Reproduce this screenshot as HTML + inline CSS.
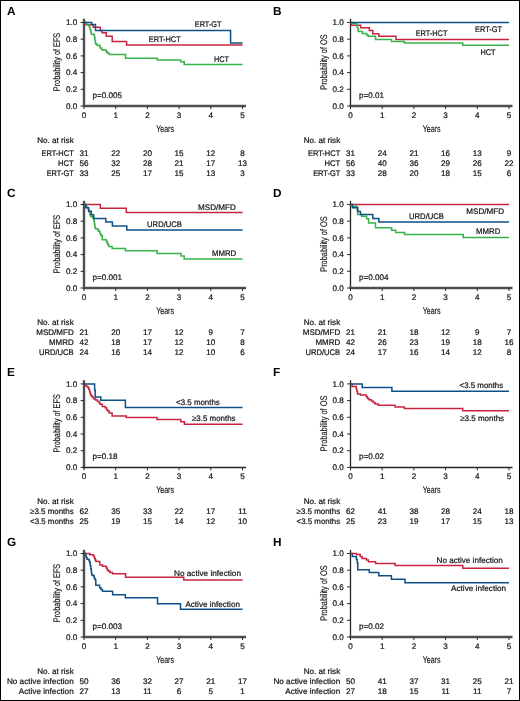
<!DOCTYPE html>
<html><head><meta charset="utf-8"><style>
html,body{margin:0;padding:0;background:#fff;}
body{width:520px;height:701px;overflow:hidden;}
svg{display:block;will-change:transform;}
text{font-family:"Liberation Sans", sans-serif;fill:#151515;text-rendering:geometricPrecision;}
.s{font-size:8.1px;stroke:#151515;stroke-width:0.22px;}
.L{font-size:11.8px;font-weight:bold;fill:#000;}
.T{font-size:9.6px;stroke:#151515;stroke-width:0.15px;}
.axg{fill:none;stroke:#4f4f4f;stroke-width:2.4;}
.axd{fill:none;stroke:#242424;stroke-width:1.3;}
.tk{fill:none;stroke:#2a2a2a;stroke-width:1;}
.c{fill:none;stroke-width:1.5;}
</style></head><body>
<svg width="520" height="701" viewBox="0 0 520 701">
<rect x="0.5" y="0.5" width="519" height="700" fill="#fff" stroke="#000" stroke-width="1"/>
<g><text x="7.00" y="14.80" class="L">A</text>
<text transform="translate(60.30,62.00) rotate(-90)" text-anchor="middle" class="T" textLength="58.4" lengthAdjust="spacingAndGlyphs">Probability of EFS</text>
<path d="M84.00,18.80 V107.00" class="axg"/>
<path d="M83.00,106.00 H246.00" class="axg"/>
<text x="77.30" y="108.75" text-anchor="end" class="s">0.0</text>
<text x="77.30" y="92.05" text-anchor="end" class="s">0.2</text>
<text x="77.30" y="75.35" text-anchor="end" class="s">0.4</text>
<text x="77.30" y="58.65" text-anchor="end" class="s">0.6</text>
<text x="77.30" y="41.95" text-anchor="end" class="s">0.8</text>
<text x="77.30" y="25.25" text-anchor="end" class="s">1.0</text>
<text x="84.00" y="117.90" text-anchor="middle" class="s">0</text>
<text x="115.70" y="117.90" text-anchor="middle" class="s">1</text>
<text x="147.40" y="117.90" text-anchor="middle" class="s">2</text>
<text x="179.10" y="117.90" text-anchor="middle" class="s">3</text>
<text x="210.80" y="117.90" text-anchor="middle" class="s">4</text>
<text x="242.50" y="117.90" text-anchor="middle" class="s">5</text>
<path d="M80.60,106.00 H84.00 M80.60,89.30 H84.00 M80.60,72.60 H84.00 M80.60,55.90 H84.00 M80.60,39.20 H84.00 M80.60,22.50 H84.00 M84.00,106.00 V109.00 M115.70,106.00 V109.00 M147.40,106.00 V109.00 M179.10,106.00 V109.00 M210.80,106.00 V109.00 M242.50,106.00 V109.00" class="tk"/>
<text x="165.10" y="131.50" text-anchor="middle" class="T" textLength="17.9" lengthAdjust="spacingAndGlyphs">Years</text>
<text x="92.50" y="97.80" class="s">p=0.005</text>
<path d="M84.00,22.50 H85.00 V24.80 H93.20 V27.30 H100.20 V30.40 H102.00 V32.70 H106.30 V36.30 H112.20 V41.50 H126.60 V45.10 H242.50" stroke="#c9243f" class="c"/>
<path d="M84.00,22.50 H86.50 V24.40 H88.60 V25.60 H89.30 V27.00 H90.00 V29.50 H90.70 V32.00 H91.30 V34.20 H94.00 V35.50 H94.60 V38.00 H95.00 V41.00 H95.50 V43.70 H96.50 V44.50 H97.40 V45.60 H100.10 V47.90 H101.60 V49.80 H102.80 V50.00 H106.20 V51.80 H107.40 V53.30 H109.30 V54.50 H125.50 V58.30 H157.30 V59.90 H180.80 V61.80 H184.20 V64.40 H242.50" stroke="#37b24a" class="c"/>
<path d="M84.00,22.50 H91.70 V24.60 H95.50 V30.40 H230.60 V43.10 H242.50" stroke="#0e4f86" class="c"/>
<text x="194.75" y="26.90" class="s" textLength="26.75" lengthAdjust="spacingAndGlyphs">ERT-GT</text>
<text x="148.70" y="41.90" class="s" textLength="32.1" lengthAdjust="spacingAndGlyphs">ERT-HCT</text>
<text x="214.00" y="61.50" class="s" textLength="15" lengthAdjust="spacingAndGlyphs">HCT</text>
<text x="73.70" y="143.30" text-anchor="end" class="s">No. at risk</text>
<text x="41.50" y="155.70" class="s" textLength="32.2" lengthAdjust="spacingAndGlyphs">ERT-HCT</text>
<text x="84.00" y="155.70" text-anchor="middle" class="s">31</text>
<text x="115.70" y="155.70" text-anchor="middle" class="s">22</text>
<text x="147.40" y="155.70" text-anchor="middle" class="s">20</text>
<text x="179.10" y="155.70" text-anchor="middle" class="s">15</text>
<text x="210.80" y="155.70" text-anchor="middle" class="s">12</text>
<text x="242.50" y="155.70" text-anchor="middle" class="s">8</text>
<text x="58.00" y="165.70" class="s" textLength="15.7" lengthAdjust="spacingAndGlyphs">HCT</text>
<text x="84.00" y="165.70" text-anchor="middle" class="s">56</text>
<text x="115.70" y="165.70" text-anchor="middle" class="s">32</text>
<text x="147.40" y="165.70" text-anchor="middle" class="s">28</text>
<text x="179.10" y="165.70" text-anchor="middle" class="s">21</text>
<text x="210.80" y="165.70" text-anchor="middle" class="s">17</text>
<text x="242.50" y="165.70" text-anchor="middle" class="s">13</text>
<text x="46.70" y="175.70" class="s" textLength="27.0" lengthAdjust="spacingAndGlyphs">ERT-GT</text>
<text x="84.00" y="175.70" text-anchor="middle" class="s">33</text>
<text x="115.70" y="175.70" text-anchor="middle" class="s">25</text>
<text x="147.40" y="175.70" text-anchor="middle" class="s">17</text>
<text x="179.10" y="175.70" text-anchor="middle" class="s">15</text>
<text x="210.80" y="175.70" text-anchor="middle" class="s">13</text>
<text x="242.50" y="175.70" text-anchor="middle" class="s">3</text></g>
<g><text x="273.10" y="14.80" class="L">B</text>
<text transform="translate(326.80,62.00) rotate(-90)" text-anchor="middle" class="T" textLength="55.6" lengthAdjust="spacingAndGlyphs">Probability of OS</text>
<path d="M350.50,18.80 V106.60" class="axd"/>
<path d="M349.50,106.00 H512.50" class="axg"/>
<text x="343.80" y="108.75" text-anchor="end" class="s">0.0</text>
<text x="343.80" y="92.05" text-anchor="end" class="s">0.2</text>
<text x="343.80" y="75.35" text-anchor="end" class="s">0.4</text>
<text x="343.80" y="58.65" text-anchor="end" class="s">0.6</text>
<text x="343.80" y="41.95" text-anchor="end" class="s">0.8</text>
<text x="343.80" y="25.25" text-anchor="end" class="s">1.0</text>
<text x="350.50" y="117.90" text-anchor="middle" class="s">0</text>
<text x="382.20" y="117.90" text-anchor="middle" class="s">1</text>
<text x="413.90" y="117.90" text-anchor="middle" class="s">2</text>
<text x="445.60" y="117.90" text-anchor="middle" class="s">3</text>
<text x="477.30" y="117.90" text-anchor="middle" class="s">4</text>
<text x="509.00" y="117.90" text-anchor="middle" class="s">5</text>
<path d="M347.10,106.00 H350.50 M347.10,89.30 H350.50 M347.10,72.60 H350.50 M347.10,55.90 H350.50 M347.10,39.20 H350.50 M347.10,22.50 H350.50 M350.50,106.00 V109.00 M382.20,106.00 V109.00 M413.90,106.00 V109.00 M445.60,106.00 V109.00 M477.30,106.00 V109.00 M509.00,106.00 V109.00" class="tk"/>
<text x="431.60" y="131.50" text-anchor="middle" class="T" textLength="17.9" lengthAdjust="spacingAndGlyphs">Years</text>
<text x="359.00" y="97.80" class="s">p=0.01</text>
<path d="M350.50,22.50 H351.30 V25.20 H360.60 V27.70 H369.30 V30.40 H372.80 V33.80 H378.90 V36.20 H395.90 V39.50 H509.00" stroke="#c9243f" class="c"/>
<path d="M350.50,22.50 H352.10 V23.60 H356.60 V25.50 H357.20 V27.50 H357.80 V29.50 H358.40 V31.50 H362.40 V33.50 H366.60 V35.00 H368.10 V36.20 H375.50 V39.60 H391.60 V41.40 H404.40 V43.10 H462.80 V45.20 H509.00" stroke="#37b24a" class="c"/>
<path d="M350.50,22.50 H509.00" stroke="#0e4f86" class="c"/>
<text x="475.10" y="32.20" class="s" textLength="26.9" lengthAdjust="spacingAndGlyphs">ERT-GT</text>
<text x="415.70" y="35.80" class="s" textLength="31.7" lengthAdjust="spacingAndGlyphs">ERT-HCT</text>
<text x="480.40" y="54.70" class="s" textLength="15.1" lengthAdjust="spacingAndGlyphs">HCT</text>
<text x="340.20" y="143.30" text-anchor="end" class="s">No. at risk</text>
<text x="308.00" y="155.70" class="s" textLength="32.2" lengthAdjust="spacingAndGlyphs">ERT-HCT</text>
<text x="350.50" y="155.70" text-anchor="middle" class="s">31</text>
<text x="382.20" y="155.70" text-anchor="middle" class="s">24</text>
<text x="413.90" y="155.70" text-anchor="middle" class="s">21</text>
<text x="445.60" y="155.70" text-anchor="middle" class="s">16</text>
<text x="477.30" y="155.70" text-anchor="middle" class="s">13</text>
<text x="509.00" y="155.70" text-anchor="middle" class="s">9</text>
<text x="324.50" y="165.70" class="s" textLength="15.7" lengthAdjust="spacingAndGlyphs">HCT</text>
<text x="350.50" y="165.70" text-anchor="middle" class="s">56</text>
<text x="382.20" y="165.70" text-anchor="middle" class="s">40</text>
<text x="413.90" y="165.70" text-anchor="middle" class="s">36</text>
<text x="445.60" y="165.70" text-anchor="middle" class="s">29</text>
<text x="477.30" y="165.70" text-anchor="middle" class="s">26</text>
<text x="509.00" y="165.70" text-anchor="middle" class="s">22</text>
<text x="313.20" y="175.50" class="s" textLength="27.0" lengthAdjust="spacingAndGlyphs">ERT-GT</text>
<text x="350.50" y="175.50" text-anchor="middle" class="s">33</text>
<text x="382.20" y="175.50" text-anchor="middle" class="s">28</text>
<text x="413.90" y="175.50" text-anchor="middle" class="s">20</text>
<text x="445.60" y="175.50" text-anchor="middle" class="s">18</text>
<text x="477.30" y="175.50" text-anchor="middle" class="s">15</text>
<text x="509.00" y="175.50" text-anchor="middle" class="s">6</text></g>
<g><text x="7.00" y="196.80" class="L">C</text>
<text transform="translate(60.30,244.00) rotate(-90)" text-anchor="middle" class="T" textLength="58.4" lengthAdjust="spacingAndGlyphs">Probability of EFS</text>
<path d="M84.00,200.80 V289.00" class="axg"/>
<path d="M83.00,288.00 H246.00" class="axg"/>
<text x="77.30" y="290.75" text-anchor="end" class="s">0.0</text>
<text x="77.30" y="274.05" text-anchor="end" class="s">0.2</text>
<text x="77.30" y="257.35" text-anchor="end" class="s">0.4</text>
<text x="77.30" y="240.65" text-anchor="end" class="s">0.6</text>
<text x="77.30" y="223.95" text-anchor="end" class="s">0.8</text>
<text x="77.30" y="207.25" text-anchor="end" class="s">1.0</text>
<text x="84.00" y="299.90" text-anchor="middle" class="s">0</text>
<text x="115.70" y="299.90" text-anchor="middle" class="s">1</text>
<text x="147.40" y="299.90" text-anchor="middle" class="s">2</text>
<text x="179.10" y="299.90" text-anchor="middle" class="s">3</text>
<text x="210.80" y="299.90" text-anchor="middle" class="s">4</text>
<text x="242.50" y="299.90" text-anchor="middle" class="s">5</text>
<path d="M80.60,288.00 H84.00 M80.60,271.30 H84.00 M80.60,254.60 H84.00 M80.60,237.90 H84.00 M80.60,221.20 H84.00 M80.60,204.50 H84.00 M84.00,288.00 V291.00 M115.70,288.00 V291.00 M147.40,288.00 V291.00 M179.10,288.00 V291.00 M210.80,288.00 V291.00 M242.50,288.00 V291.00" class="tk"/>
<text x="165.10" y="313.50" text-anchor="middle" class="T" textLength="17.9" lengthAdjust="spacingAndGlyphs">Years</text>
<text x="92.50" y="279.80" class="s">p=0.001</text>
<path d="M84.00,204.50 H100.30 V208.20 H126.30 V212.50 H242.50" stroke="#c9243f" class="c"/>
<path d="M84.00,204.50 H85.50 V206.00 H86.80 V207.50 H88.20 V209.50 H89.00 V212.00 H89.80 V214.50 H90.60 V216.60 H92.20 V217.30 H93.10 V218.50 H93.80 V221.00 H94.40 V224.00 H94.90 V227.00 H95.40 V228.80 H97.70 V229.80 H98.50 V231.30 H100.00 V233.50 H100.80 V235.50 H102.30 V239.80 H106.30 V241.50 H107.30 V243.50 H108.00 V244.70 H108.70 V246.40 H112.10 V248.40 H125.40 V250.70 H157.10 V253.50 H181.10 V255.90 H184.20 V259.00 H242.50" stroke="#37b24a" class="c"/>
<path d="M84.00,204.50 H85.70 V207.80 H88.60 V211.20 H91.30 V214.70 H93.70 V218.40 H105.80 V222.10 H112.40 V225.90 H126.80 V230.00 H242.50" stroke="#0e4f86" class="c"/>
<text x="198.10" y="209.70" class="s" textLength="37.7" lengthAdjust="spacingAndGlyphs">MSD/MFD</text>
<text x="147.10" y="226.70" class="s" textLength="34.8" lengthAdjust="spacingAndGlyphs">URD/UCB</text>
<text x="211.90" y="256.40" class="s" textLength="24.3" lengthAdjust="spacingAndGlyphs">MMRD</text>
<text x="73.70" y="324.80" text-anchor="end" class="s">No. at risk</text>
<text x="36.30" y="335.20" class="s" textLength="37.4" lengthAdjust="spacingAndGlyphs">MSD/MFD</text>
<text x="84.00" y="335.20" text-anchor="middle" class="s">21</text>
<text x="115.70" y="335.20" text-anchor="middle" class="s">20</text>
<text x="147.40" y="335.20" text-anchor="middle" class="s">17</text>
<text x="179.10" y="335.20" text-anchor="middle" class="s">12</text>
<text x="210.80" y="335.20" text-anchor="middle" class="s">9</text>
<text x="242.50" y="335.20" text-anchor="middle" class="s">7</text>
<text x="49.00" y="345.10" class="s" textLength="24.7" lengthAdjust="spacingAndGlyphs">MMRD</text>
<text x="84.00" y="345.10" text-anchor="middle" class="s">42</text>
<text x="115.70" y="345.10" text-anchor="middle" class="s">18</text>
<text x="147.40" y="345.10" text-anchor="middle" class="s">17</text>
<text x="179.10" y="345.10" text-anchor="middle" class="s">12</text>
<text x="210.80" y="345.10" text-anchor="middle" class="s">10</text>
<text x="242.50" y="345.10" text-anchor="middle" class="s">8</text>
<text x="39.00" y="355.10" class="s" textLength="34.7" lengthAdjust="spacingAndGlyphs">URD/UCB</text>
<text x="84.00" y="355.10" text-anchor="middle" class="s">24</text>
<text x="115.70" y="355.10" text-anchor="middle" class="s">16</text>
<text x="147.40" y="355.10" text-anchor="middle" class="s">14</text>
<text x="179.10" y="355.10" text-anchor="middle" class="s">12</text>
<text x="210.80" y="355.10" text-anchor="middle" class="s">10</text>
<text x="242.50" y="355.10" text-anchor="middle" class="s">6</text></g>
<g><text x="273.10" y="196.80" class="L">D</text>
<text transform="translate(326.80,244.00) rotate(-90)" text-anchor="middle" class="T" textLength="55.6" lengthAdjust="spacingAndGlyphs">Probability of OS</text>
<path d="M350.50,200.80 V288.60" class="axd"/>
<path d="M349.50,288.00 H512.50" class="axg"/>
<text x="343.80" y="290.75" text-anchor="end" class="s">0.0</text>
<text x="343.80" y="274.05" text-anchor="end" class="s">0.2</text>
<text x="343.80" y="257.35" text-anchor="end" class="s">0.4</text>
<text x="343.80" y="240.65" text-anchor="end" class="s">0.6</text>
<text x="343.80" y="223.95" text-anchor="end" class="s">0.8</text>
<text x="343.80" y="207.25" text-anchor="end" class="s">1.0</text>
<text x="350.50" y="299.90" text-anchor="middle" class="s">0</text>
<text x="382.20" y="299.90" text-anchor="middle" class="s">1</text>
<text x="413.90" y="299.90" text-anchor="middle" class="s">2</text>
<text x="445.60" y="299.90" text-anchor="middle" class="s">3</text>
<text x="477.30" y="299.90" text-anchor="middle" class="s">4</text>
<text x="509.00" y="299.90" text-anchor="middle" class="s">5</text>
<path d="M347.10,288.00 H350.50 M347.10,271.30 H350.50 M347.10,254.60 H350.50 M347.10,237.90 H350.50 M347.10,221.20 H350.50 M347.10,204.50 H350.50 M350.50,288.00 V291.00 M382.20,288.00 V291.00 M413.90,288.00 V291.00 M445.60,288.00 V291.00 M477.30,288.00 V291.00 M509.00,288.00 V291.00" class="tk"/>
<text x="431.60" y="313.50" text-anchor="middle" class="T" textLength="17.9" lengthAdjust="spacingAndGlyphs">Years</text>
<text x="359.00" y="279.80" class="s">p=0.004</text>
<path d="M350.50,204.50 H509.00" stroke="#c9243f" class="c"/>
<path d="M350.50,204.50 H352.40 V206.20 H357.10 V210.00 H357.60 V214.60 H361.60 V216.20 H366.60 V218.80 H368.60 V223.00 H375.50 V227.80 H391.60 V230.20 H395.70 V232.40 H404.50 V234.60 H463.20 V237.50 H509.00" stroke="#37b24a" class="c"/>
<path d="M350.50,204.50 H352.40 V207.70 H357.80 V211.50 H360.50 V214.60 H372.80 V218.40 H378.80 V222.00 H509.00" stroke="#0e4f86" class="c"/>
<text x="466.30" y="213.50" class="s" textLength="37.8" lengthAdjust="spacingAndGlyphs">MSD/MFD</text>
<text x="409.00" y="218.80" class="s" textLength="35" lengthAdjust="spacingAndGlyphs">URD/UCB</text>
<text x="476.10" y="234.40" class="s" textLength="24.2" lengthAdjust="spacingAndGlyphs">MMRD</text>
<text x="340.20" y="324.80" text-anchor="end" class="s">No. at risk</text>
<text x="302.80" y="334.90" class="s" textLength="37.4" lengthAdjust="spacingAndGlyphs">MSD/MFD</text>
<text x="350.50" y="334.90" text-anchor="middle" class="s">21</text>
<text x="382.20" y="334.90" text-anchor="middle" class="s">21</text>
<text x="413.90" y="334.90" text-anchor="middle" class="s">18</text>
<text x="445.60" y="334.90" text-anchor="middle" class="s">12</text>
<text x="477.30" y="334.90" text-anchor="middle" class="s">9</text>
<text x="509.00" y="334.90" text-anchor="middle" class="s">7</text>
<text x="315.50" y="344.80" class="s" textLength="24.7" lengthAdjust="spacingAndGlyphs">MMRD</text>
<text x="350.50" y="344.80" text-anchor="middle" class="s">42</text>
<text x="382.20" y="344.80" text-anchor="middle" class="s">26</text>
<text x="413.90" y="344.80" text-anchor="middle" class="s">23</text>
<text x="445.60" y="344.80" text-anchor="middle" class="s">19</text>
<text x="477.30" y="344.80" text-anchor="middle" class="s">18</text>
<text x="509.00" y="344.80" text-anchor="middle" class="s">16</text>
<text x="305.50" y="354.80" class="s" textLength="34.7" lengthAdjust="spacingAndGlyphs">URD/UCB</text>
<text x="350.50" y="354.80" text-anchor="middle" class="s">24</text>
<text x="382.20" y="354.80" text-anchor="middle" class="s">17</text>
<text x="413.90" y="354.80" text-anchor="middle" class="s">16</text>
<text x="445.60" y="354.80" text-anchor="middle" class="s">14</text>
<text x="477.30" y="354.80" text-anchor="middle" class="s">12</text>
<text x="509.00" y="354.80" text-anchor="middle" class="s">8</text></g>
<g><text x="7.00" y="376.20" class="L">E</text>
<text transform="translate(60.30,423.40) rotate(-90)" text-anchor="middle" class="T" textLength="58.4" lengthAdjust="spacingAndGlyphs">Probability of EFS</text>
<path d="M84.00,380.20 V468.40" class="axg"/>
<path d="M83.40,467.50 H246.00" class="axd"/>
<text x="77.30" y="470.15" text-anchor="end" class="s">0.0</text>
<text x="77.30" y="453.45" text-anchor="end" class="s">0.2</text>
<text x="77.30" y="436.75" text-anchor="end" class="s">0.4</text>
<text x="77.30" y="420.05" text-anchor="end" class="s">0.6</text>
<text x="77.30" y="403.35" text-anchor="end" class="s">0.8</text>
<text x="77.30" y="386.65" text-anchor="end" class="s">1.0</text>
<text x="84.00" y="479.30" text-anchor="middle" class="s">0</text>
<text x="115.70" y="479.30" text-anchor="middle" class="s">1</text>
<text x="147.40" y="479.30" text-anchor="middle" class="s">2</text>
<text x="179.10" y="479.30" text-anchor="middle" class="s">3</text>
<text x="210.80" y="479.30" text-anchor="middle" class="s">4</text>
<text x="242.50" y="479.30" text-anchor="middle" class="s">5</text>
<path d="M80.60,467.40 H84.00 M80.60,450.70 H84.00 M80.60,434.00 H84.00 M80.60,417.30 H84.00 M80.60,400.60 H84.00 M80.60,383.90 H84.00 M84.00,467.40 V470.40 M115.70,467.40 V470.40 M147.40,467.40 V470.40 M179.10,467.40 V470.40 M210.80,467.40 V470.40 M242.50,467.40 V470.40" class="tk"/>
<text x="165.10" y="492.90" text-anchor="middle" class="T" textLength="17.9" lengthAdjust="spacingAndGlyphs">Years</text>
<text x="92.50" y="459.20" class="s">p=0.18</text>
<path d="M84.00,384.10 H85.00 V385.40 H86.50 V386.60 H88.00 V387.80 H88.80 V389.60 H89.60 V392.10 H90.40 V394.60 H91.20 V396.00 H92.40 V397.30 H93.60 V398.70 H95.50 V400.10 H97.50 V401.60 H99.40 V403.40 H100.30 V404.30 H102.30 V406.60 H105.20 V407.80 H106.50 V409.60 H107.50 V411.10 H109.20 V413.00 H112.10 V416.10 H126.30 V417.60 H157.00 V419.60 H180.80 V421.80 H184.40 V424.30 H242.50" stroke="#c9243f" class="c"/>
<path d="M84.00,384.10 H94.60 V390.10 H95.20 V396.90 H100.80 V400.30 H125.40 V407.40 H242.50" stroke="#0e4f86" class="c"/>
<text x="176.10" y="404.80" class="s" textLength="43.7" lengthAdjust="spacingAndGlyphs">&lt;3.5 months</text>
<text x="191.90" y="421.40" class="s" textLength="43.7" lengthAdjust="spacingAndGlyphs">≥3.5 months</text>
<text x="73.70" y="503.80" text-anchor="end" class="s">No. at risk</text>
<text x="30.10" y="514.30" class="s" textLength="43.6" lengthAdjust="spacingAndGlyphs">≥3.5 months</text>
<text x="84.00" y="514.30" text-anchor="middle" class="s">62</text>
<text x="115.70" y="514.30" text-anchor="middle" class="s">35</text>
<text x="147.40" y="514.30" text-anchor="middle" class="s">33</text>
<text x="179.10" y="514.30" text-anchor="middle" class="s">22</text>
<text x="210.80" y="514.30" text-anchor="middle" class="s">17</text>
<text x="242.50" y="514.30" text-anchor="middle" class="s">11</text>
<text x="30.10" y="524.30" class="s" textLength="43.6" lengthAdjust="spacingAndGlyphs">&lt;3.5 months</text>
<text x="84.00" y="524.30" text-anchor="middle" class="s">25</text>
<text x="115.70" y="524.30" text-anchor="middle" class="s">19</text>
<text x="147.40" y="524.30" text-anchor="middle" class="s">15</text>
<text x="179.10" y="524.30" text-anchor="middle" class="s">14</text>
<text x="210.80" y="524.30" text-anchor="middle" class="s">12</text>
<text x="242.50" y="524.30" text-anchor="middle" class="s">10</text></g>
<g><text x="273.10" y="376.20" class="L">F</text>
<text transform="translate(326.80,423.40) rotate(-90)" text-anchor="middle" class="T" textLength="55.6" lengthAdjust="spacingAndGlyphs">Probability of OS</text>
<path d="M350.50,380.20 V468.00" class="axd"/>
<path d="M349.90,467.50 H512.50" class="axd"/>
<text x="343.80" y="470.15" text-anchor="end" class="s">0.0</text>
<text x="343.80" y="453.45" text-anchor="end" class="s">0.2</text>
<text x="343.80" y="436.75" text-anchor="end" class="s">0.4</text>
<text x="343.80" y="420.05" text-anchor="end" class="s">0.6</text>
<text x="343.80" y="403.35" text-anchor="end" class="s">0.8</text>
<text x="343.80" y="386.65" text-anchor="end" class="s">1.0</text>
<text x="350.50" y="479.30" text-anchor="middle" class="s">0</text>
<text x="382.20" y="479.30" text-anchor="middle" class="s">1</text>
<text x="413.90" y="479.30" text-anchor="middle" class="s">2</text>
<text x="445.60" y="479.30" text-anchor="middle" class="s">3</text>
<text x="477.30" y="479.30" text-anchor="middle" class="s">4</text>
<text x="509.00" y="479.30" text-anchor="middle" class="s">5</text>
<path d="M347.10,467.40 H350.50 M347.10,450.70 H350.50 M347.10,434.00 H350.50 M347.10,417.30 H350.50 M347.10,400.60 H350.50 M347.10,383.90 H350.50 M350.50,467.40 V470.40 M382.20,467.40 V470.40 M413.90,467.40 V470.40 M445.60,467.40 V470.40 M477.30,467.40 V470.40 M509.00,467.40 V470.40" class="tk"/>
<text x="431.60" y="492.90" text-anchor="middle" class="T" textLength="17.9" lengthAdjust="spacingAndGlyphs">Years</text>
<text x="359.00" y="459.20" class="s">p=0.02</text>
<path d="M350.50,384.10 H352.10 V386.60 H356.30 V389.10 H356.90 V391.60 H357.50 V393.90 H360.50 V394.90 H366.30 V396.80 H367.50 V398.60 H368.90 V399.80 H371.30 V400.90 H373.10 V402.60 H375.10 V404.10 H378.40 V405.30 H395.10 V406.90 H404.30 V408.40 H462.70 V410.70 H509.00" stroke="#c9243f" class="c"/>
<path d="M350.50,384.10 H362.20 V387.60 H391.90 V391.30 H509.00" stroke="#0e4f86" class="c"/>
<text x="459.60" y="387.80" class="s" textLength="43.6" lengthAdjust="spacingAndGlyphs">&lt;3.5 months</text>
<text x="460.20" y="420.80" class="s" textLength="43.9" lengthAdjust="spacingAndGlyphs">≥3.5 months</text>
<text x="340.20" y="503.80" text-anchor="end" class="s">No. at risk</text>
<text x="296.60" y="514.30" class="s" textLength="43.6" lengthAdjust="spacingAndGlyphs">≥3.5 months</text>
<text x="350.50" y="514.30" text-anchor="middle" class="s">62</text>
<text x="382.20" y="514.30" text-anchor="middle" class="s">41</text>
<text x="413.90" y="514.30" text-anchor="middle" class="s">38</text>
<text x="445.60" y="514.30" text-anchor="middle" class="s">28</text>
<text x="477.30" y="514.30" text-anchor="middle" class="s">24</text>
<text x="509.00" y="514.30" text-anchor="middle" class="s">18</text>
<text x="296.60" y="524.30" class="s" textLength="43.6" lengthAdjust="spacingAndGlyphs">&lt;3.5 months</text>
<text x="350.50" y="524.30" text-anchor="middle" class="s">25</text>
<text x="382.20" y="524.30" text-anchor="middle" class="s">23</text>
<text x="413.90" y="524.30" text-anchor="middle" class="s">19</text>
<text x="445.60" y="524.30" text-anchor="middle" class="s">17</text>
<text x="477.30" y="524.30" text-anchor="middle" class="s">15</text>
<text x="509.00" y="524.30" text-anchor="middle" class="s">13</text></g>
<g><text x="7.00" y="545.80" class="L">G</text>
<text transform="translate(60.30,593.00) rotate(-90)" text-anchor="middle" class="T" textLength="58.4" lengthAdjust="spacingAndGlyphs">Probability of EFS</text>
<path d="M84.00,549.80 V638.00" class="axg"/>
<path d="M83.00,637.00 H246.00" class="axg"/>
<text x="77.30" y="639.75" text-anchor="end" class="s">0.0</text>
<text x="77.30" y="623.05" text-anchor="end" class="s">0.2</text>
<text x="77.30" y="606.35" text-anchor="end" class="s">0.4</text>
<text x="77.30" y="589.65" text-anchor="end" class="s">0.6</text>
<text x="77.30" y="572.95" text-anchor="end" class="s">0.8</text>
<text x="77.30" y="556.25" text-anchor="end" class="s">1.0</text>
<text x="84.00" y="648.90" text-anchor="middle" class="s">0</text>
<text x="115.70" y="648.90" text-anchor="middle" class="s">1</text>
<text x="147.40" y="648.90" text-anchor="middle" class="s">2</text>
<text x="179.10" y="648.90" text-anchor="middle" class="s">3</text>
<text x="210.80" y="648.90" text-anchor="middle" class="s">4</text>
<text x="242.50" y="648.90" text-anchor="middle" class="s">5</text>
<path d="M80.60,637.00 H84.00 M80.60,620.30 H84.00 M80.60,603.60 H84.00 M80.60,586.90 H84.00 M80.60,570.20 H84.00 M80.60,553.50 H84.00 M84.00,637.00 V640.00 M115.70,637.00 V640.00 M147.40,637.00 V640.00 M179.10,637.00 V640.00 M210.80,637.00 V640.00 M242.50,637.00 V640.00" class="tk"/>
<text x="165.10" y="662.50" text-anchor="middle" class="T" textLength="17.9" lengthAdjust="spacingAndGlyphs">Years</text>
<text x="92.50" y="628.80" class="s">p=0.003</text>
<path d="M84.00,553.50 H89.80 V554.80 H93.60 V556.50 H94.50 V558.50 H95.20 V560.00 H95.90 V561.50 H99.80 V565.00 H102.50 V566.20 H106.30 V568.00 H107.30 V570.00 H108.50 V571.20 H110.00 V572.50 H112.60 V573.80 H125.50 V577.20 H183.80 V580.00 H242.50" stroke="#c9243f" class="c"/>
<path d="M84.00,553.50 H85.50 V555.50 H86.20 V557.50 H87.10 V559.20 H89.00 V560.50 H89.60 V562.50 H90.20 V565.40 H90.80 V569.00 H91.40 V572.50 H91.70 V575.00 H93.40 V576.00 H94.30 V578.50 H95.30 V580.00 H95.80 V585.20 H99.60 V587.80 H101.00 V589.50 H102.50 V591.30 H112.60 V594.80 H125.30 V597.80 H157.50 V603.80 H180.50 V609.30 H242.50" stroke="#0e4f86" class="c"/>
<text x="174.00" y="575.50" class="s" textLength="67" lengthAdjust="spacingAndGlyphs">No active infection</text>
<text x="185.40" y="606.50" class="s" textLength="54.5" lengthAdjust="spacingAndGlyphs">Active infection</text>
<text x="73.70" y="673.50" text-anchor="end" class="s">No. at risk</text>
<text x="6.90" y="683.90" class="s" textLength="66.8" lengthAdjust="spacingAndGlyphs">No active infection</text>
<text x="84.00" y="683.90" text-anchor="middle" class="s">50</text>
<text x="115.70" y="683.90" text-anchor="middle" class="s">36</text>
<text x="147.40" y="683.90" text-anchor="middle" class="s">32</text>
<text x="179.10" y="683.90" text-anchor="middle" class="s">27</text>
<text x="210.80" y="683.90" text-anchor="middle" class="s">21</text>
<text x="242.50" y="683.90" text-anchor="middle" class="s">17</text>
<text x="18.70" y="693.90" class="s" textLength="55.0" lengthAdjust="spacingAndGlyphs">Active infection</text>
<text x="84.00" y="693.90" text-anchor="middle" class="s">27</text>
<text x="115.70" y="693.90" text-anchor="middle" class="s">13</text>
<text x="147.40" y="693.90" text-anchor="middle" class="s">11</text>
<text x="179.10" y="693.90" text-anchor="middle" class="s">6</text>
<text x="210.80" y="693.90" text-anchor="middle" class="s">5</text>
<text x="242.50" y="693.90" text-anchor="middle" class="s">1</text></g>
<g><text x="273.10" y="545.80" class="L">H</text>
<text transform="translate(326.80,593.00) rotate(-90)" text-anchor="middle" class="T" textLength="55.6" lengthAdjust="spacingAndGlyphs">Probability of OS</text>
<path d="M350.50,549.80 V637.60" class="axd"/>
<path d="M349.50,637.00 H512.50" class="axg"/>
<text x="343.80" y="639.75" text-anchor="end" class="s">0.0</text>
<text x="343.80" y="623.05" text-anchor="end" class="s">0.2</text>
<text x="343.80" y="606.35" text-anchor="end" class="s">0.4</text>
<text x="343.80" y="589.65" text-anchor="end" class="s">0.6</text>
<text x="343.80" y="572.95" text-anchor="end" class="s">0.8</text>
<text x="343.80" y="556.25" text-anchor="end" class="s">1.0</text>
<text x="350.50" y="648.90" text-anchor="middle" class="s">0</text>
<text x="382.20" y="648.90" text-anchor="middle" class="s">1</text>
<text x="413.90" y="648.90" text-anchor="middle" class="s">2</text>
<text x="445.60" y="648.90" text-anchor="middle" class="s">3</text>
<text x="477.30" y="648.90" text-anchor="middle" class="s">4</text>
<text x="509.00" y="648.90" text-anchor="middle" class="s">5</text>
<path d="M347.10,637.00 H350.50 M347.10,620.30 H350.50 M347.10,603.60 H350.50 M347.10,586.90 H350.50 M347.10,570.20 H350.50 M347.10,553.50 H350.50 M350.50,637.00 V640.00 M382.20,637.00 V640.00 M413.90,637.00 V640.00 M445.60,637.00 V640.00 M477.30,637.00 V640.00 M509.00,637.00 V640.00" class="tk"/>
<text x="431.60" y="662.50" text-anchor="middle" class="T" textLength="17.9" lengthAdjust="spacingAndGlyphs">Years</text>
<text x="359.00" y="628.80" class="s">p=0.02</text>
<path d="M350.50,553.50 H352.30 V556.40 H356.40 V559.60 H357.30 V563.00 H357.80 V569.70 H369.30 V572.60 H378.80 V575.80 H391.40 V579.20 H405.00 V582.70 H509.00" stroke="#0e4f86" class="c"/>
<path d="M350.50,553.50 H356.60 V554.60 H360.20 V556.50 H362.10 V558.50 H366.40 V560.10 H368.40 V561.70 H375.60 V563.50 H395.10 V565.50 H462.80 V568.20 H509.00" stroke="#c9243f" class="c"/>
<text x="436.60" y="562.80" class="s" textLength="66.2" lengthAdjust="spacingAndGlyphs">No active infection</text>
<text x="451.00" y="590.90" class="s" textLength="55.1" lengthAdjust="spacingAndGlyphs">Active infection</text>
<text x="340.20" y="673.50" text-anchor="end" class="s">No. at risk</text>
<text x="273.40" y="683.90" class="s" textLength="66.8" lengthAdjust="spacingAndGlyphs">No active infection</text>
<text x="350.50" y="683.90" text-anchor="middle" class="s">50</text>
<text x="382.20" y="683.90" text-anchor="middle" class="s">41</text>
<text x="413.90" y="683.90" text-anchor="middle" class="s">37</text>
<text x="445.60" y="683.90" text-anchor="middle" class="s">31</text>
<text x="477.30" y="683.90" text-anchor="middle" class="s">25</text>
<text x="509.00" y="683.90" text-anchor="middle" class="s">21</text>
<text x="285.20" y="693.90" class="s" textLength="55.0" lengthAdjust="spacingAndGlyphs">Active infection</text>
<text x="350.50" y="693.90" text-anchor="middle" class="s">27</text>
<text x="382.20" y="693.90" text-anchor="middle" class="s">18</text>
<text x="413.90" y="693.90" text-anchor="middle" class="s">15</text>
<text x="445.60" y="693.90" text-anchor="middle" class="s">11</text>
<text x="477.30" y="693.90" text-anchor="middle" class="s">11</text>
<text x="509.00" y="693.90" text-anchor="middle" class="s">7</text></g>
</svg></body></html>
